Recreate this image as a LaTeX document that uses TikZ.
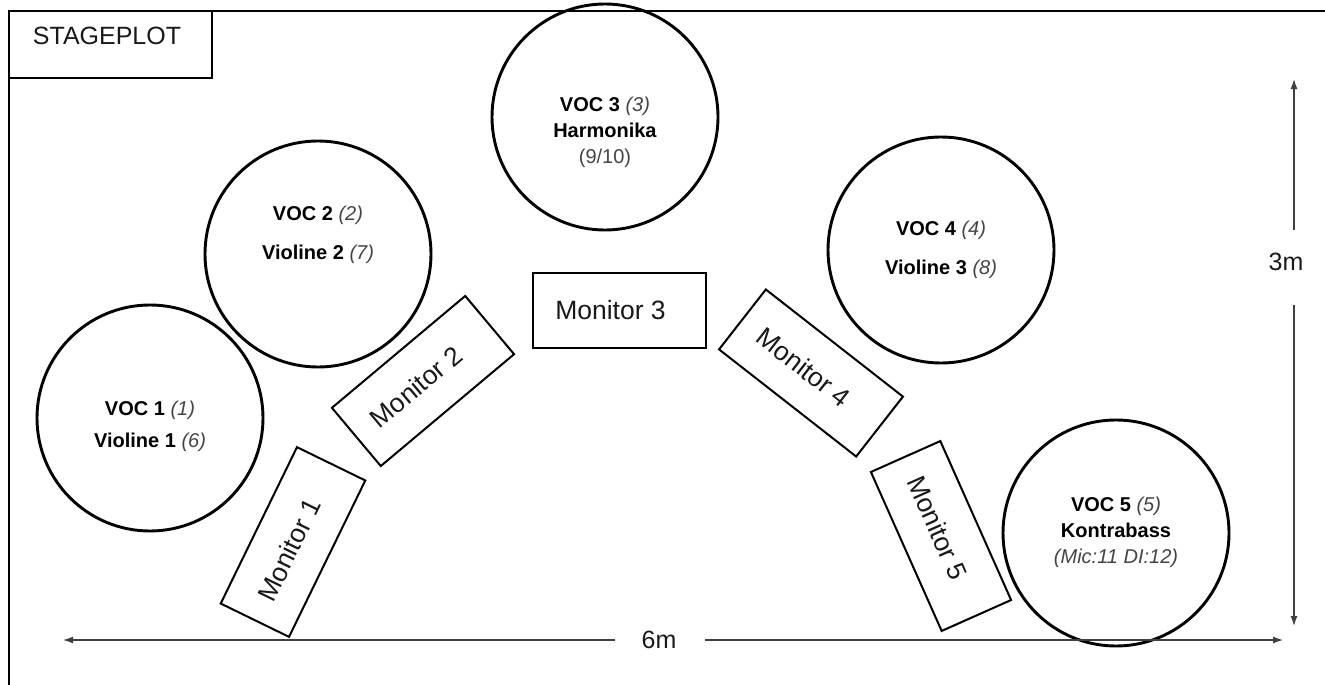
\documentclass[tikz,border=0pt]{standalone}
\usepackage{fontspec}
\setmainfont{Liberation Sans}
\usetikzlibrary{arrows.meta}
\definecolor{dimgray}{HTML}{404040}
\definecolor{numgray}{HTML}{444444}
\tikzset{
  performer/.style={draw=black, line width=2.9pt, circle, minimum size=226pt, inner sep=0pt},
  circtext/.style={align=center, font=\fontsize{20}{24}\selectfont, inner sep=0pt},
  monitor/.style={draw=black, line width=2pt, minimum width=174pt, minimum height=76pt, inner sep=0pt, font=\fontsize{26.5}{30}\selectfont, text=black!90},
  dimline/.style={draw=dimgray, line width=2.6pt, -{Latex[length=11pt,width=7pt]}},
  dimtext/.style={font=\fontsize{25}{28}\selectfont, text=black!90, inner sep=0pt},
}
\newcommand{\nm}[1]{\textcolor{numgray}{\textit{#1}}}
\newcommand{\mon}[1]{#1\hspace*{18pt}}
\begin{document}
\begin{tikzpicture}[x=1pt,y=-1pt]
\useasboundingbox (0,0) rectangle (1325,685);
% frame
\draw[line width=2.2pt] (9,690) -- (9,11) -- (1330,11);
\node[draw=black, line width=2.2pt, minimum width=203pt, minimum height=67pt, inner sep=0pt] (titlebox) at (110.5,44.5) {};
\node[font=\fontsize{25}{28}\selectfont, text=black!90, inner sep=0pt] (title) at (107,36) {STAGEPLOT};
% performers
\node[performer] (c1) at (150,418) {};
\node[performer] (c2) at (318,254) {};
\node[performer] (c3) at (605,117) {};
\node[performer] (c4) at (941,250) {};
\node[performer] (c5) at (1116,533) {};
\node[circtext] (t1) at (150,426) {\textbf{VOC 1} \nm{(1)}\\[8pt]\textbf{Violine 1} \nm{(6)}};
\node[circtext] (t2) at (318,235) {\textbf{VOC 2} \nm{(2)}\\[15pt]\textbf{Violine 2} \nm{(7)}};
\node[circtext] (t3) at (605,132) {\textbf{VOC 3} \nm{(3)}\\[2pt]\textbf{Harmonika}\\[2pt]\textcolor{numgray}{(9/10)}};
\node[circtext] (t4) at (941,250) {\textbf{VOC 4} \nm{(4)}\\[15pt]\textbf{Violine 3} \nm{(8)}};
\node[circtext] (t5) at (1116,532) {\textbf{VOC 5} \nm{(5)}\\[2pt]\textbf{Kontrabass}\\[2pt]\nm{(Mic:11 DI:12)}};
% monitors
\node[monitor, rotate=64] (m1) at (293,542) {\mon{Monitor 1}};
\node[monitor, rotate=40] (m2) at (423,381) {\mon{Monitor 2}};
\node[monitor, minimum width=173pt, minimum height=75pt] (m3) at (619.5,310.5) {\mon{Monitor 3}};
\node[monitor, rotate=-38] (m4) at (811,373) {\mon{Monitor 4}};
\node[monitor, rotate=-66] (m5) at (941,536) {\mon{Monitor 5}};
% dimensions
\node[dimtext] (w) at (659,640) {6m};
\coordinate (wl) at (615,640);
\coordinate (wr) at (705,640);
\coordinate (wL) at (62,640);
\coordinate (wR) at (1284,640);
\draw[dimline] (wl) -- (wL);
\draw[dimline] (wr) -- (wR);
\node[dimtext] (h) at (1286,262) {3m};
\coordinate (ht) at (1294,230);
\coordinate (hb) at (1294,305);
\coordinate (hT) at (1294,78);
\coordinate (hB) at (1294,627);
\draw[dimline] (ht) -- (hT);
\draw[dimline] (hb) -- (hB);
\end{tikzpicture}
\end{document}
